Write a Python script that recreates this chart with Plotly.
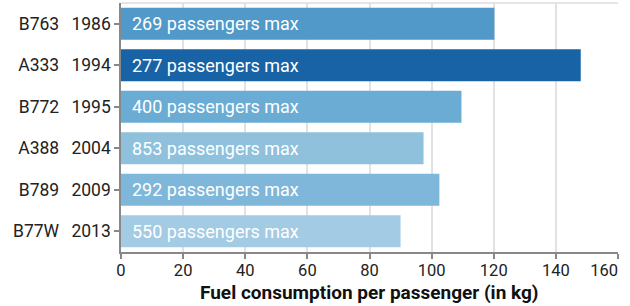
import plotly.graph_objects as go

models = ["B763", "A333", "B772", "A388", "B789", "B77W"]
years = ["1986", "1994", "1995", "2004", "2009", "2013"]
fuel_per_pax = [120.2, 148.0, 109.6, 97.4, 102.5, 90.0]
max_pax = [269, 277, 400, 853, 292, 550]
bar_colors = ["#5099c9", "#1862a6", "#6aacd3", "#8fc1dd", "#7eb7da", "#a3cbe4"]
x_ticks = [0, 20, 40, 60, 80, 100, 120, 140, 160]
x_title = "Fuel consumption per passenger (in kg)"

FONT = "Roboto"
labels = [f"{m}\u00a0\u00a0\u2009{y}" for m, y in zip(models, years)]
x_ticktext = [str(v) for v in x_ticks]
x_ticktext[-1] = x_ticktext[-1] + "\u2007\u2007\u2007"

fig = go.Figure()
fig.add_trace(go.Bar(
    x=fuel_per_pax, y=labels, orientation="h",
    marker=dict(color=bar_colors, line=dict(width=0)),
    hoverinfo="skip",
))

for lab, p in zip(labels, max_pax):
    fig.add_annotation(x=0, y=lab, xref="x", yref="y", text=f"{p} passengers max",
                       showarrow=False, xanchor="left", xshift=9,
                       font=dict(family=FONT, size=18, color="white"))

fig.add_annotation(x=0.5, y=0, xref="paper", yref="paper", yshift=-40, yanchor="middle",
                   text=f"<b>{x_title}</b>", showarrow=False,
                   font=dict(family=FONT, size=19, color="#111111"))

fig.add_shape(type="line", xref="paper", yref="paper", x0=0, x1=1, y0=1, y1=1,
              line=dict(color="#dddddd", width=1.5))

fig.update_layout(
    width=630, height=306,
    margin=dict(l=121, r=12, t=3, b=54),
    plot_bgcolor="white", paper_bgcolor="white",
    showlegend=False, bargap=0.23,
    font=dict(family=FONT, size=16, color="#222222"),
    xaxis=dict(range=[0, 160], tickvals=x_ticks, ticktext=x_ticktext,
               showgrid=True, gridcolor="#e2e2e2", gridwidth=1.5,
               zeroline=False, showline=True, linecolor="#888888", linewidth=1.5,
               ticks="outside", ticklen=5, tickcolor="#888888", tickwidth=1.5, automargin=False,
               ticklabeloverflow="allow", ticklabelstandoff=-3,
               tickfont=dict(family=FONT, size=16.5, color="#222222")),
    yaxis=dict(autorange="reversed", showgrid=False, showline=True, linecolor="#888888", linewidth=1.5,
               ticks="outside", ticklen=5, tickcolor="#888888", tickwidth=1.5, automargin=False,
               tickfont=dict(family=FONT, size=17.5, color="#222222")),
)

fig.write_html("out.html", config={"displayModeBar": False},
               post_script="document.body.style.margin='0';")
